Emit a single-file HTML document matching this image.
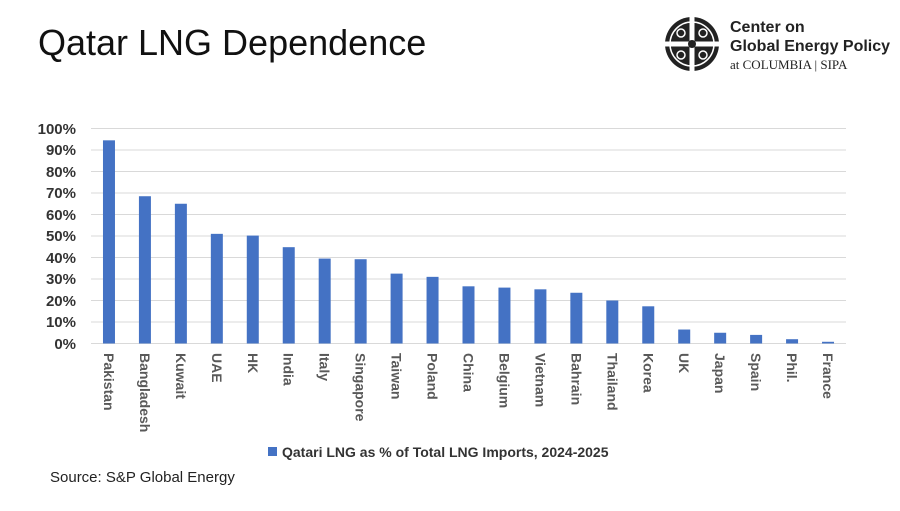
<!DOCTYPE html>
<html><head><meta charset="utf-8"><style>
body{margin:0;background:#fff;width:900px;height:506px;overflow:hidden;font-family:"Liberation Sans",sans-serif}
</style></head><body>
<svg width="900" height="506" xmlns="http://www.w3.org/2000/svg" font-family="Liberation Sans, sans-serif">
<text x="38" y="55" font-size="36" fill="#111">Qatar LNG Dependence</text>
<g transform="translate(692,44)">
<circle r="27" fill="#222"/>
<circle r="22" fill="none" stroke="#fff" stroke-width="1.5"/>
<rect x="-2.5" y="-27" width="5" height="54" fill="#fff"/>
<rect x="-27" y="-2.5" width="54" height="5" fill="#fff"/>
<circle cx="-11" cy="-11" r="4" fill="none" stroke="#fff" stroke-width="1.5"/>
<circle cx="11" cy="-11" r="4" fill="none" stroke="#fff" stroke-width="1.5"/>
<circle cx="-11" cy="11" r="4" fill="none" stroke="#fff" stroke-width="1.5"/>
<circle cx="11" cy="11" r="4" fill="none" stroke="#fff" stroke-width="1.5"/>
<circle r="4" fill="#222"/>
</g>
<text x="730" y="32" font-size="16" font-weight="bold" fill="#222">Center on</text>
<text x="730" y="51" font-size="16" font-weight="bold" fill="#222">Global Energy Policy</text>
<text x="730" y="69" font-size="13" font-family="Liberation Serif, serif" fill="#222">at COLUMBIA | SIPA</text>
<g stroke="#d9d9d9" stroke-width="1">
<line x1="91" x2="846" y1="128.5" y2="128.5"/><line x1="91" x2="846" y1="150" y2="150"/>
<line x1="91" x2="846" y1="171.5" y2="171.5"/><line x1="91" x2="846" y1="193" y2="193"/>
<line x1="91" x2="846" y1="214.5" y2="214.5"/><line x1="91" x2="846" y1="236" y2="236"/>
<line x1="91" x2="846" y1="257.5" y2="257.5"/><line x1="91" x2="846" y1="279" y2="279"/>
<line x1="91" x2="846" y1="300.5" y2="300.5"/><line x1="91" x2="846" y1="322" y2="322"/>
<line x1="91" x2="846" y1="343.5" y2="343.5"/>
</g>
<g font-size="15" font-weight="bold" fill="#333" text-anchor="end">
<text x="76" y="134">100%</text><text x="76" y="155">90%</text><text x="76" y="177">80%</text>
<text x="76" y="198">70%</text><text x="76" y="220">60%</text><text x="76" y="241">50%</text>
<text x="76" y="263">40%</text><text x="76" y="284">30%</text><text x="76" y="306">20%</text>
<text x="76" y="327">10%</text><text x="76" y="349">0%</text>
</g>
<g id="bars" fill="#4472c4"></g>
<g id="labels" font-size="14" font-weight="bold" fill="#595959"></g>
<rect x="268" y="447" width="9" height="9" fill="#4472c4"/>
<text x="282" y="457" font-size="14" font-weight="bold" fill="#333">Qatari LNG as % of Total LNG Imports, 2024-2025</text>
<text x="50" y="482" font-size="15" fill="#222">Source: S&amp;P Global Energy</text>
<script>
var d=[["Pakistan",94.5],["Bangladesh",68.5],["Kuwait",65],["UAE",51],["HK",50.2],["India",44.8],["Italy",39.5],["Singapore",39.2],["Taiwan",32.5],["Poland",31],["China",26.6],["Belgium",26],["Vietnam",25.2],["Bahrain",23.6],["Thailand",20],["Korea",17.3],["UK",6.5],["Japan",5],["Spain",4],["Phil.",2],["France",0.8]];
var ns="http://www.w3.org/2000/svg",b=document.getElementById("bars"),l=document.getElementById("labels");
var step=(846-91)/d.length;
d.forEach(function(e,i){var cx=91+step*(i+0.5),h=e[1]*2.15;
var r=document.createElementNS(ns,"rect");r.setAttribute("x",cx-6);r.setAttribute("y",343.5-h);r.setAttribute("width",12);r.setAttribute("height",h);b.appendChild(r);
var t=document.createElementNS(ns,"text");t.setAttribute("transform","translate("+(cx-5)+",353) rotate(90)");t.textContent=e[0];l.appendChild(t);});
</script>
</svg>
</body></html>
